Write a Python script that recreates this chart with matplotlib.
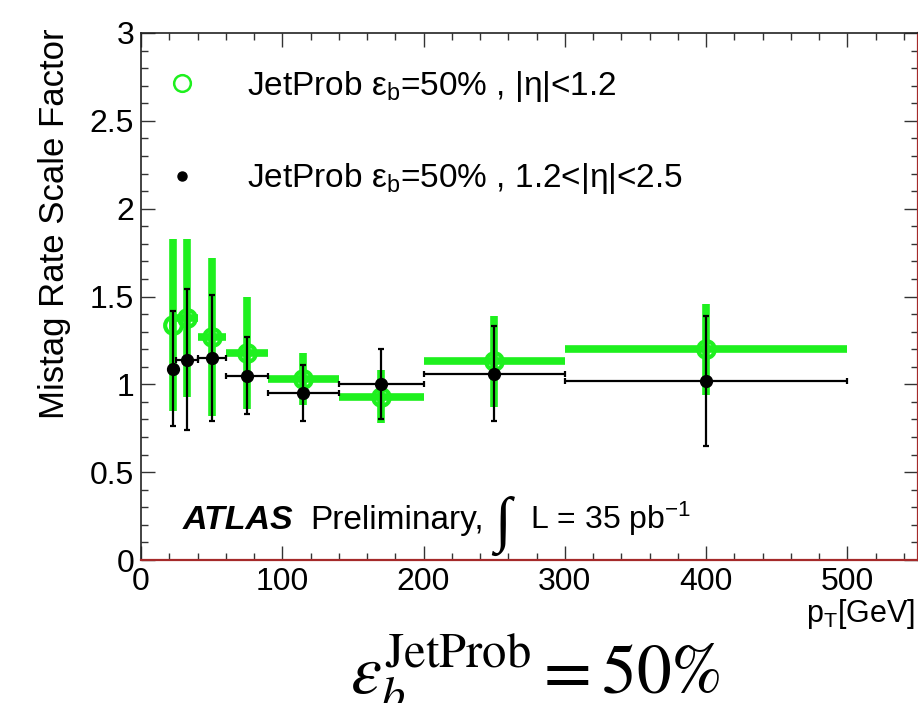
import numpy as np
import matplotlib
matplotlib.use("Agg")
import matplotlib.pyplot as plt
from matplotlib.lines import Line2D
from matplotlib.ticker import MultipleLocator

plt.rcParams['font.family'] = ['Liberation Sans', 'DejaVu Sans']
plt.rcParams['mathtext.fontset'] = 'custom'
plt.rcParams['mathtext.rm'] = 'Liberation Sans'
plt.rcParams['mathtext.it'] = 'Liberation Sans:italic'
plt.rcParams['mathtext.bf'] = 'Liberation Sans:bold'

# pT bins [GeV]
bin_low = np.array([20, 25, 40, 60, 90, 140, 200, 300])
bin_high = np.array([25, 40, 60, 90, 140, 200, 300, 500])

# |eta| < 1.2
sf_central = [1.34, 1.38, 1.27, 1.18, 1.03, 0.93, 1.13, 1.20]
err_central = [0.49, 0.45, 0.45, 0.32, 0.15, 0.15, 0.26, 0.26]

# 1.2 < |eta| < 2.5
sf_forward = [1.09, 1.14, 1.15, 1.05, 0.95, 1.00, 1.06, 1.02]
err_forward = [0.33, 0.40, 0.36, 0.22, 0.16, 0.20, 0.27, 0.37]

label_central = r'JetProb ε$_{\mathrm{b}}$=50% , |η|<1.2'
label_forward = r'JetProb ε$_{\mathrm{b}}$=50% , 1.2<|η|<2.5'

green = '#1ef01e'

pt_mid = (bin_low + bin_high) / 2
pt_err = (bin_high - bin_low) / 2

fig = plt.figure(figsize=(9.18, 7.03), dpi=100)
ax = fig.add_axes([141 / 918, 1 - 560 / 703, 777 / 918, 527 / 703])

# thick green bands first, black points on top
ax.errorbar(pt_mid, sf_central, xerr=pt_err, yerr=err_central, fmt='o',
            color=green, ecolor=green, elinewidth=5.5, capsize=0,
            ms=12, mfc='none', mec=green, mew=3, zorder=2)
ax.errorbar(pt_mid, sf_forward, xerr=pt_err, yerr=err_forward, fmt='o',
            color='black', ecolor='black', elinewidth=1.6, capsize=2.5,
            capthick=1.6, ms=8.5, zorder=3)

ax.set_xlim(0, 550)
ax.set_ylim(0, 3)
ax.xaxis.set_major_locator(MultipleLocator(100))
ax.xaxis.set_minor_locator(MultipleLocator(20))
ax.yaxis.set_minor_locator(MultipleLocator(0.1))
ax.set_yticks([0, 0.5, 1, 1.5, 2, 2.5, 3])
ax.set_yticklabels(['0', '0.5', '1', '1.5', '2', '2.5', '3'])
ax.tick_params(which='both', direction='in', top=True, right=True,
               labelsize=23, width=1, color='#333333')
ax.tick_params(which='major', length=10, pad=5)
ax.tick_params(which='minor', length=5)

for side in ['left', 'top']:
    ax.spines[side].set_linewidth(1.2)
    ax.spines[side].set_color('#222222')
for side in ['bottom', 'right']:
    ax.spines[side].set_linewidth(1.6)
    ax.spines[side].set_color('#a52a2a')

ax.set_ylabel('Mistag Rate Scale Factor', fontsize=25)
ax.yaxis.set_label_coords(-0.111, 0.638)
ax.yaxis.label.set_va('center')

fig.text(915 / 918, 1 - 622 / 703, r'p$_{\mathrm{T}}$[GeV]', fontsize=22,
         ha='right', va='baseline')

handles = [
    Line2D([], [], ls='none', marker='o', ms=12, mfc='none', mec=green, mew=1.8),
    Line2D([], [], ls='none', marker='o', ms=6.5, color='black'),
]
ax.legend(handles, [label_central, label_forward], loc='upper left',
          bbox_to_anchor=(0.034, 0.932), frameon=False, fontsize=24,
          handlelength=0.9, handletextpad=1.5, labelspacing=1.72,
          borderpad=0, borderaxespad=0)

# ATLAS label
yb = (560 - 529) / 527
ax.text((183 - 141) / 777, yb, 'ATLAS', transform=ax.transAxes, fontsize=24.5,
        fontweight='bold', fontstyle='italic', va='baseline')
ax.text((310 - 141) / 777, yb, 'Preliminary,', transform=ax.transAxes,
        fontsize=24, va='baseline')
ax.text((494 - 141) / 777, (560 - 540) / 527, '∫', transform=ax.transAxes,
        fontsize=44, family='Liberation Serif', va='baseline')
ax.text((530 - 141) / 777, yb, r'L = 35 pb$^{\mathrm{-1}}$', transform=ax.transAxes,
        fontsize=23, va='baseline')

fig.text(350 / 918, 1 - 694 / 703,
         r'$\varepsilon_b^{\mathrm{JetProb}} = 50\%$', fontsize=50,
         math_fontfamily='stix', ha='left', va='baseline')

fig.savefig('out.png', dpi=100)
